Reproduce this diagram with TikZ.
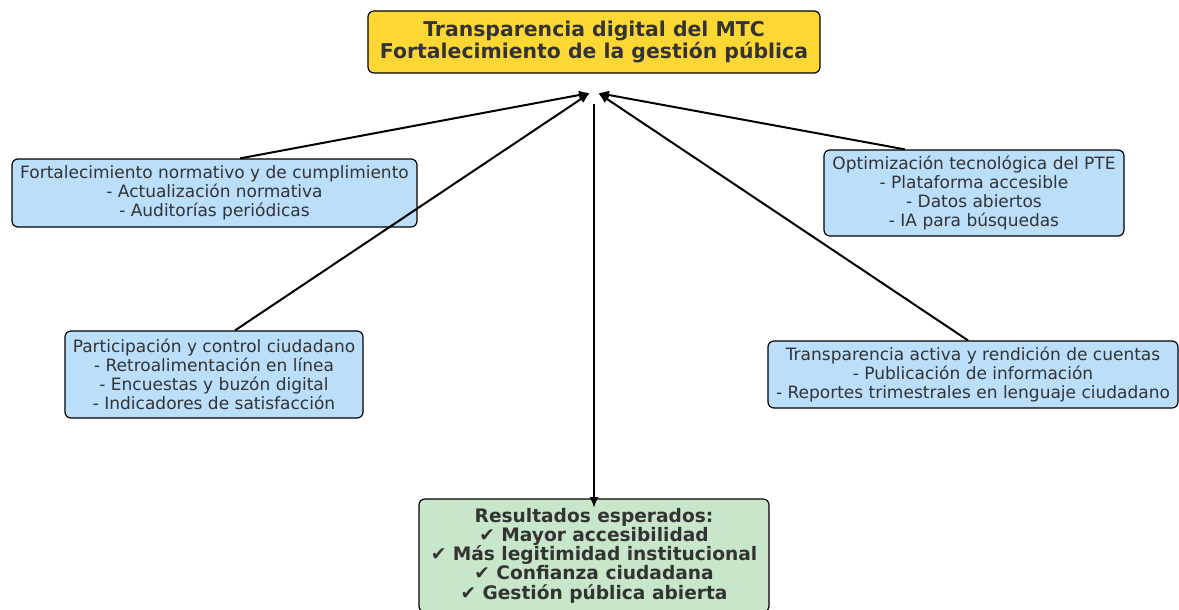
\documentclass[tikz,border=0pt]{standalone}
\usepackage{fontspec}
\setmainfont{DejaVu Sans}
\usetikzlibrary{arrows.meta,calc}
\definecolor{ybox}{HTML}{FDD835}
\definecolor{bbox}{HTML}{BBDEFB}
\definecolor{gbox}{HTML}{C8E6C9}
\definecolor{txt}{HTML}{333333}
\tikzset{
  box/.style={draw=black, line width=1.2pt, rounded corners=6pt, align=center, text=txt, inner sep=0pt},
  sub/.style={box, fill=bbox, font=\fontsize{17}{18.8}\selectfont},
  conn/.style={line width=2pt, -{Latex[length=11pt,width=9pt]}},
}
\begin{document}
\begin{tikzpicture}[x=1pt,y=-1pt]
\useasboundingbox (0,0) rectangle (1179,610);
\node[box, fill=ybox, minimum width=452pt, minimum height=62pt, font=\bfseries\fontsize{20.4}{22}\selectfont] (top) at (594,42)
  {Transparencia digital del MTC\\Fortalecimiento de la gestión pública};
\node[sub, minimum width=405pt, minimum height=68pt] (l1) at (214.5,193)
  {Fortalecimiento normativo y de cumplimiento\\- Actualización normativa\\- Auditorías periódicas};
\node[sub, minimum width=300pt, minimum height=86pt] (r1) at (974,193)
  {Optimización tecnológica del PTE\\- Plataforma accesible\\- Datos abiertos\\- IA para búsquedas};
\node[sub, minimum width=298pt, minimum height=87pt] (l2) at (214,374.5)
  {Participación y control ciudadano\\- Retroalimentación en línea\\- Encuestas y buzón digital\\- Indicadores de satisfacción};
\node[sub, minimum width=410pt, minimum height=67pt] (r2) at (973,374.5)
  {Transparencia activa y rendición de cuentas\\- Publicación de información\\- Reportes trimestrales en lenguaje ciudadano};
\node[box, fill=gbox, minimum width=350pt, minimum height=113pt, font=\bfseries\fontsize{18.6}{19.3}\selectfont] (bot) at (594,555.5)
  {Resultados esperados:\\✔ Mayor accesibilidad\\✔ Más legitimidad institucional\\✔ Confianza ciudadana\\✔ Gestión pública abierta};
\coordinate (tl) at (590,93);
\coordinate (tr) at (598,93);
\coordinate (vs) at (594,104);
\coordinate (ve) at (594,508);
\draw[conn] ($(l1.north)+(25.5,0)$) -- (tl);
\draw[conn] ($(l2.north)+(21,0)$) -- (tl);
\draw[conn] ($(r1.north)+(-69,0)$) -- (tr);
\draw[conn] ($(r2.north)+(-5,0)$) -- (tr);
\draw[conn] (vs) -- (ve);
\end{tikzpicture}
\end{document}
